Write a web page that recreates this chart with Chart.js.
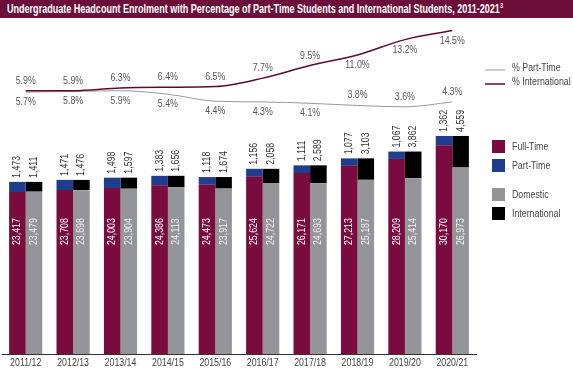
<!DOCTYPE html>
<html>
<head>
<meta charset="utf-8">
<script src="https://cdn.jsdelivr.net/npm/chart.js@4"></script>
<style>
  body { margin: 0; background: #fff; }
  #wrap { position: relative; width: 573px; height: 370px; overflow: hidden; }
  #title {
    position: absolute; left: 0; top: 0; width: 573px; height: 18px;
    background: #6b0e39; color: #fff;
    font: bold 13px "Liberation Sans", Arial, sans-serif;
    line-height: 18px; white-space: nowrap;
  }
  #title span { position: absolute; left: 7px; top: 0; transform-origin: 0 50%; }
  #title sup { font-size: 8px; line-height: 0; }
  canvas { position: absolute; left: 0; top: 0; }
</style>
</head>
<body>
<div id="wrap">
  <canvas id="enrolChart" width="573" height="370"></canvas>
  <div id="title"><span id="titleText">Undergraduate Headcount Enrolment with Percentage of Part-Time Students and International Students, 2011-2021<sup>3</sup></span></div>
</div>
<script>
const years = ["2011/12", "2012/13", "2013/14", "2014/15", "2015/16", "2016/17", "2017/18", "2018/19", "2019/20", "2020/21"];
const fullTime = [23417, 23708, 24003, 24386, 24473, 25624, 26171, 27213, 28209, 30170];
const partTime = [1473, 1471, 1498, 1383, 1118, 1156, 1111, 1077, 1067, 1362];
const domestic = [23479, 23698, 23904, 24113, 23917, 24722, 24693, 25187, 25414, 26973];
const international = [1411, 1476, 1597, 1656, 1674, 2058, 2589, 3103, 3862, 4559];
const pctPartTime = [5.7, 5.8, 5.9, 5.4, 4.4, 4.3, 4.1, 3.8, 3.6, 4.3];
const pctInternational = [5.9, 5.9, 6.3, 6.4, 6.5, 7.7, 9.5, 11.0, 13.2, 14.5];

const MAROON = "#7a0b3e";
const BLUE = "#1f3d8f";
const GREY = "#939598";
const BLACK = "#000000";
const FONT = "11px 'Liberation Sans', Arial, sans-serif";
const SQUEEZE = 0.8; // the original uses a condensed face, fake it by squeezing

// draw a squeezed text, optionally turned to read bottom to top
function drawText(ctx, text, x, y, align, color, rotated) {
    ctx.save();
    ctx.translate(x, y);
    if (rotated) ctx.rotate(-Math.PI / 2);
    ctx.scale(SQUEEZE, 1);
    ctx.font = FONT;
    ctx.textAlign = align;
    ctx.textBaseline = "middle";
    ctx.fillStyle = color;
    ctx.fillText(text, 0, 0);
    ctx.restore();
}

// value labels on bars, percentages along the lines, category names
const valueLabels = {
    id: "valueLabels",
    afterDatasetsDraw(chart) {
        const ctx = chart.ctx;
        const yScale = chart.scales.y;
        const xScale = chart.scales.x;
        chart.data.datasets.forEach((ds, i) => {
            const meta = chart.getDatasetMeta(i);
            meta.data.forEach((el, j) => {
                const v = ds.data[j];
                if (ds.labelMode === "inside") {
                    drawText(ctx, v.toLocaleString("en-US"), el.x, yScale.getPixelForValue(17700), "center", ds.labelColor, true);
                } else if (ds.labelMode === "top") {
                    drawText(ctx, v.toLocaleString("en-US"), el.x, el.y - 4, "left", "#333", true);
                } else if (ds.labelMode === "line") {
                    // labels flip side where the two lines get close to the bars
                    const dy = j >= ds.flipFrom ? -ds.labelOffset : ds.labelOffset;
                    drawText(ctx, v.toFixed(1) + "%", el.x, el.y + dy, "center", "#555", false);
                }
            });
        });
        years.forEach((yr, i) => {
            drawText(ctx, yr, xScale.getPixelForValue(i), chart.chartArea.bottom + 9, "center", "#444", false);
        });
    }
};

// legend on the right hand side
const sideLegend = {
    id: "sideLegend",
    afterDraw(chart) {
        const ctx = chart.ctx;
        const ds = chart.data.datasets;
        ctx.save();
        [[5, 70], [4, 84]].forEach(([i, y]) => {
            ctx.strokeStyle = ds[i].borderColor;
            ctx.lineWidth = ds[i].borderWidth;
            ctx.beginPath();
            ctx.moveTo(485, y);
            ctx.lineTo(505, y);
            ctx.stroke();
            drawText(ctx, ds[i].label, 512, y - 2, "left", "#444", false);
        });
        [[0, 147], [1, 166], [2, 195], [3, 214]].forEach(([i, y]) => {
            ctx.fillStyle = ds[i].backgroundColor;
            ctx.fillRect(492, y - 7, 13, 13);
            drawText(ctx, ds[i].label, 512, y, "left", "#444", false);
        });
        ctx.restore();
    }
};

document.addEventListener("DOMContentLoaded", () => {
    // fit the title into the band the same way as the original
    const titleText = document.getElementById("titleText");
    titleText.style.transform = "scaleX(" + (496 / titleText.getBoundingClientRect().width) + ")";

    const ctx = document.getElementById("enrolChart").getContext("2d");
    new Chart(ctx, {
        data: {
            labels: years,
            datasets: [
                { type: "bar", label: "Full-Time", data: fullTime, backgroundColor: MAROON, stack: "status", labelMode: "inside", labelColor: "#fff", order: 2 },
                { type: "bar", label: "Part-Time", data: partTime, backgroundColor: BLUE, stack: "status", labelMode: "top", order: 2 },
                { type: "bar", label: "Domestic", data: domestic, backgroundColor: GREY, stack: "origin", labelMode: "inside", labelColor: "#f2f2f2", order: 2 },
                { type: "bar", label: "International", data: international, backgroundColor: BLACK, stack: "origin", labelMode: "top", order: 2 },
                { type: "line", label: "% International", data: pctInternational, yAxisID: "y2", borderColor: "#5e0a30", borderWidth: 1.5, pointRadius: 0, cubicInterpolationMode: "monotone", labelMode: "line", labelOffset: -10, flipFrom: 7, order: 1 },
                { type: "line", label: "% Part-Time", data: pctPartTime, yAxisID: "y2", borderColor: "#9a9a9a", borderWidth: 1, pointRadius: 0, cubicInterpolationMode: "monotone", labelMode: "line", labelOffset: 10, flipFrom: 7, order: 1 }
            ]
        },
        options: {
            responsive: false,
            animation: false,
            layout: { padding: { left: 2, right: 97, top: 20, bottom: 16 } },
            datasets: { bar: { categoryPercentage: 0.7, barPercentage: 1.0 } },
            plugins: { legend: { display: false }, tooltip: { enabled: false } },
            scales: {
                x: {
                    stacked: true,
                    grid: { display: false, drawTicks: false },
                    border: { display: true, color: "#333", width: 1 },
                    ticks: { display: false }
                },
                y: { stacked: true, display: false, min: 0, max: 48300 },
                y2: { display: false, min: -31.7, max: 16.0 }
            }
        },
        plugins: [valueLabels, sideLegend]
    });
});
</script>
</body>
</html>
